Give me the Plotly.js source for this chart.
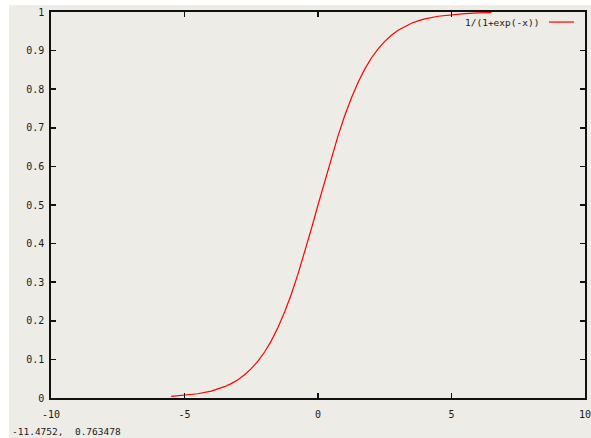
<!DOCTYPE html>
<html>
<head>
<meta charset="utf-8">
<script src="https://cdn.plot.ly/plotly-3.0.1.min.js"></script>
<style>
  html, body { margin: 0; padding: 0; background: #ffffff; width: 591px; height: 438px; overflow: hidden; }
  #chart { position: absolute; left: 9px; top: 5px; width: 582px; height: 433px; }
</style>
</head>
<body>
<div id="chart"></div>
<script>
// Visible curve samples (the curve merges with the border outside about -5.5..6.5)
const xValues = [-5.5, -5, -4.5, -4, -3.75, -3.5, -3.25, -3, -2.75, -2.5, -2.25, -2, -1.75, -1.5, -1.25, -1, -0.75, -0.5, -0.25, 0,
                 0.25, 0.5, 0.75, 1, 1.25, 1.5, 1.75, 2, 2.25, 2.5, 2.75, 3, 3.25, 3.5, 3.75, 4, 4.5, 5, 5.5, 6, 6.5];
const yValues = [0.0041, 0.0067, 0.0110, 0.0180, 0.0230, 0.0293, 0.0373, 0.0474, 0.0601, 0.0759, 0.0953, 0.1192, 0.1480, 0.1824, 0.2227, 0.2689, 0.3208, 0.3775, 0.4378, 0.5000,
                 0.5622, 0.6225, 0.6792, 0.7311, 0.7773, 0.8176, 0.8520, 0.8808, 0.9047, 0.9241, 0.9399, 0.9526, 0.9627, 0.9707, 0.9770, 0.9820, 0.9890, 0.9933, 0.9959, 0.9975, 0.9985];
const seriesName = "1/(1+exp(-x))";
const xTickVals = [-10, -5, 0, 5, 10];
const xTickText = ["-10", "-5", "0", "5", "10"];
const yTickVals = [0, 0.1, 0.2, 0.3, 0.4, 0.5, 0.6, 0.7, 0.8, 0.9, 1];
const yTickText = ["0", "0.1", "0.2", "0.3", "0.4", "0.5", "0.6", "0.7", "0.8", "0.9", "1"];
const statusText = "-11.4752,  0.763478";

const FONT = "DejaVu Sans Mono, Liberation Mono, monospace";
const BG = "#edece6";
const TXT = "#1a1a1a";

const trace = {
  x: xValues, y: yValues, type: "scatter", mode: "lines", name: seriesName,
  line: { color: "#ff0000", width: 1.2 }, showlegend: false, hoverinfo: "skip"
};

const axisCommon = {
  showgrid: false, zeroline: false, showline: true, linecolor: "#111111", linewidth: 1.6,
  mirror: "ticks", ticks: "inside", ticklen: 5, tickwidth: 1.6, tickcolor: "#111111",
  tickmode: "array", tickfont: { family: FONT, size: 10, color: TXT }, layer: "above traces",
  ticklabeloverflow: "allow"
};

const layout = {
  width: 582, height: 433,
  margin: { l: 42, r: 6, t: 7, b: 40 },
  paper_bgcolor: BG, plot_bgcolor: BG,
  xaxis: Object.assign({}, axisCommon, { range: [-10, 10], tickvals: xTickVals, ticktext: xTickText, ticklabelstandoff: 6 }),
  yaxis: Object.assign({}, axisCommon, { range: [0, 1], tickvals: yTickVals, ticktext: yTickText, ticklabelstandoff: 3 }),
  annotations: [
    { xref: "paper", yref: "paper", x: 0.9176, y: 0.974, xanchor: "right", yanchor: "middle",
      text: seriesName, showarrow: false, font: { family: FONT, size: 9.5, color: TXT } },
    { xref: "paper", yref: "paper", x: -0.0768, y: -0.0855, xanchor: "left", yanchor: "middle",
      text: statusText, showarrow: false, font: { family: FONT, size: 9.5, color: TXT } }
  ],
  shapes: [
    { type: "line", xref: "paper", yref: "paper", x0: 0.9326, x1: 0.9794, y0: 0.974, y1: 0.974,
      line: { color: "#ff0000", width: 1.2 } }
  ]
};

Plotly.newPlot("chart", [trace], layout, { staticPlot: true, displayModeBar: false });
</script>
</body>
</html>
